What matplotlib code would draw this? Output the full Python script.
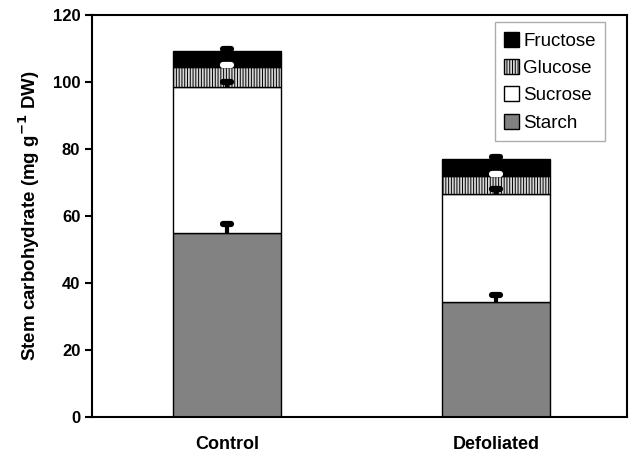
import matplotlib.pyplot as plt
import numpy as np

plt.rcParams['font.family'] = ['Liberation Sans', 'DejaVu Sans']
plt.rcParams['hatch.color'] = '#a8a8a8'
plt.rcParams['hatch.linewidth'] = 0.7

grupos = ['Control', 'Defoliated']
amido = [54.9, 34.4]
sacarose = [43.7, 32.1]
glicose = [5.8, 5.4]
frutose = [4.9, 5.0]

erro_amido = [2.7, 2.0]
erro_sacarose = [1.5, 1.4]
erro_glicose = [0.7, 0.6]
erro_frutose = [0.5, 0.6]

x = np.arange(len(grupos))
largura = 0.40
meio_cap = 0.014

fig = plt.figure(figsize=(6.35, 4.59), dpi=100)
ax = fig.add_axes([0.145, 0.0915, 0.842, 0.876])

base = np.zeros(len(grupos))
camadas = [
    ('Starch', amido, erro_amido, dict(color='#828282'), 'black'),
    ('Sucrose', sacarose, erro_sacarose, dict(color='white'), 'black'),
    ('Glucose', glicose, erro_glicose, dict(color='#d6d6d6', hatch='||||||'), 'white'),
    ('Fructose', frutose, erro_frutose, dict(color='black'), 'black'),
]

barras = {}
for nome, valores, erros, estilo, cor_erro in camadas:
    valores = np.array(valores)
    b = ax.bar(x, valores, largura, bottom=base, edgecolor='black', linewidth=1.0,
               label=nome, zorder=2, **estilo)
    for r in b:
        r.set_edgecolor('black')
    topo = base + valores
    # barra de erro so para cima
    ax.vlines(x, topo, topo + np.array(erros), colors=cor_erro, linewidth=3, zorder=3)
    ax.hlines(topo + np.array(erros), x - meio_cap, x + meio_cap, colors=cor_erro,
              linewidth=4.5, capstyle='round', zorder=3)
    barras[nome] = b
    base = topo

ax.set_ylim(0, 120)
ax.set_xlim(-0.502, 1.487)
ax.set_yticks(range(0, 121, 20))
ax.set_xticks(x)
ax.set_xticklabels(grupos, fontsize=13, fontweight='bold')
ax.tick_params(axis='x', length=0, pad=14)
ax.tick_params(axis='y', direction='out', length=5, width=1.5, labelsize=12)
for t in ax.get_yticklabels():
    t.set_fontweight('bold')
for s in ax.spines.values():
    s.set_linewidth(1.5)

ax.set_ylabel('Stem carbohydrate (mg g$^{\\mathbf{-1}}$ DW)', fontsize=13.5,
              fontweight='bold', labelpad=8)

ordem = ['Fructose', 'Glucose', 'Sucrose', 'Starch']
leg = ax.legend([barras[n] for n in ordem], ordem, loc='upper right',
                bbox_to_anchor=(0.977, 1.005), fontsize=13.5, frameon=True,
                fancybox=False, handlelength=0.75, handleheight=0.85,
                handletextpad=0.25, labelspacing=0.5, borderpad=0.5)
leg.get_frame().set_edgecolor('#999999')
leg.get_frame().set_linewidth(1.0)

plt.savefig('out.png', dpi=100)
